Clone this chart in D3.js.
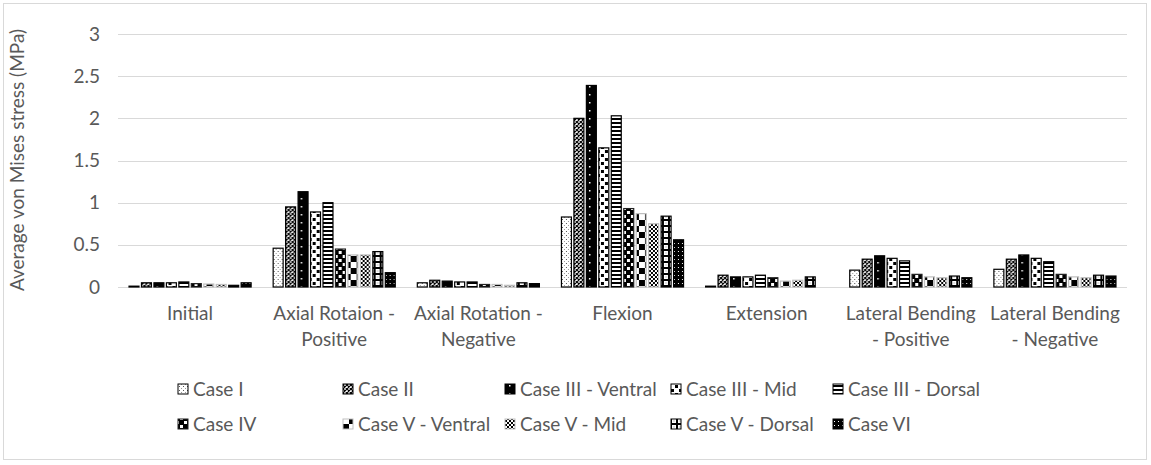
<!DOCTYPE html>
<html><head><meta charset="utf-8">
<script src="https://cdn.jsdelivr.net/npm/d3@7"></script>
<style>
body{margin:0;background:#fff;}
svg text{font-family:Lato,"Open Sans",sans-serif;fill:#595959;}
</style></head>
<body><svg id="c" width="1151" height="465"></svg>
<script>
const categories = ["Initial","Axial Rotaion - Positive","Axial Rotation - Negative","Flexion","Extension","Lateral Bending - Positive","Lateral Bending - Negative"];
const categoryLines = [["Initial"],["Axial Rotaion -","Positive"],["Axial Rotation -","Negative"],["Flexion"],["Extension"],["Lateral Bending","- Positive"],["Lateral Bending","- Negative"]];
const seriesNames = ["Case I","Case II","Case III - Ventral","Case III - Mid","Case III - Dorsal","Case IV","Case V - Ventral","Case V - Mid","Case V - Dorsal","Case VI"];
const caseI        = [0.01,0.46,0.05,0.83,0.01,0.20,0.21];
const caseII       = [0.05,0.95,0.08,2.00,0.14,0.33,0.33];
const caseIIIV     = [0.05,1.13,0.07,2.39,0.12,0.37,0.38];
const caseIIIM     = [0.05,0.89,0.06,1.65,0.12,0.34,0.34];
const caseIIID     = [0.06,1.00,0.06,2.03,0.14,0.31,0.30];
const caseIV       = [0.04,0.45,0.03,0.93,0.11,0.15,0.15];
const caseVV       = [0.035,0.38,0.03,0.87,0.07,0.12,0.12];
const caseVM       = [0.03,0.38,0.02,0.75,0.08,0.11,0.11];
const caseVD       = [0.02,0.42,0.05,0.84,0.12,0.13,0.14];
const caseVI       = [0.05,0.17,0.04,0.56,0.00,0.11,0.13];
const seriesValues = [caseI,caseII,caseIIIV,caseIIIM,caseIIID,caseIV,caseVV,caseVM,caseVD,caseVI];
const yTicks = [0,0.5,1,1.5,2,2.5,3];

const svg = d3.select("#c");
svg.append("rect").attr("x",3.5).attr("y",3.5).attr("width",1143).attr("height",456)
  .attr("fill","#fff").attr("stroke","#d9d9d9");

// patterns
const defs = svg.append("defs");
function pat(id,w,h,bg,draw){
  const p = defs.append("pattern").attr("id",id).attr("patternUnits","userSpaceOnUse").attr("width",w).attr("height",h);
  p.append("rect").attr("width",w).attr("height",h).attr("fill",bg);
  draw(p);
}
pat("p0",4,4,"#fff",p=>{p.append("rect").attr("x",1).attr("y",1).attr("width",1).attr("height",1).attr("fill","#555");p.append("rect").attr("x",3).attr("y",3).attr("width",1).attr("height",1).attr("fill","#999");});
pat("p1",4,4,"#fff",p=>{p.append("path").attr("d","M0,0L4,4M4,0L0,4").attr("stroke","#000").attr("stroke-width",1.2);});
pat("p2",8,8,"#000",p=>{p.append("rect").attr("x",4).attr("y",4).attr("width",1.5).attr("height",1.5).attr("fill","#fff");});
pat("p3",8,8,"#fff",p=>{p.append("rect").attr("x",0).attr("y",0).attr("width",3).attr("height",3).attr("fill","#000");p.append("rect").attr("x",4).attr("y",4).attr("width",3).attr("height",3).attr("fill","#000");});
pat("p4",4,4,"#fff",p=>{p.append("rect").attr("x",0).attr("y",0).attr("width",4).attr("height",2).attr("fill","#000");});
pat("p5",8,8,"#000",p=>{p.append("rect").attr("x",2).attr("y",1).attr("width",3).attr("height",3).attr("fill","#fff");p.append("rect").attr("x",6).attr("y",5).attr("width",2).attr("height",3).attr("fill","#fff");p.append("rect").attr("x",0).attr("y",5).attr("width",1).attr("height",3).attr("fill","#fff");});
pat("p6",12,12,"#fff",p=>{p.append("rect").attr("x",0).attr("y",0).attr("width",6).attr("height",6).attr("fill","#000");p.append("rect").attr("x",6).attr("y",6).attr("width",6).attr("height",6).attr("fill","#000");});
pat("p7",4,4,"#fff",p=>{p.append("rect").attr("x",0).attr("y",0).attr("width",2).attr("height",2).attr("fill","#000");p.append("rect").attr("x",2).attr("y",2).attr("width",2).attr("height",2).attr("fill","#000");});
pat("p8",6,6,"#000",p=>{p.append("rect").attr("x",1).attr("y",1).attr("width",4).attr("height",4).attr("fill","#fff");p.append("rect").attr("x",2.5).attr("y",2.5).attr("width",1).attr("height",1).attr("fill","#888");});
pat("p9",4,4,"#000",p=>{p.append("rect").attr("x",1).attr("y",1).attr("width",1).attr("height",1).attr("fill","#fff");});
const strokes = ["#000","#000","#000","#000","#000","#222","#bfbfbf","#bfbfbf","#000","#000"];

const margin = {left:118,right:24,top:34,bottom:178};
const W = 1151-margin.left-margin.right, H = 465-margin.top-margin.bottom;
const g = svg.append("g").attr("transform",`translate(${margin.left},${margin.top})`);
const x0 = d3.scaleBand().domain(categories).range([0,W]).paddingInner(0.146).paddingOuter(0.073);
const x1 = d3.scaleBand().domain(seriesNames).range([0,x0.bandwidth()]).paddingInner(0.12);
const y = d3.scaleLinear().domain([0,3]).range([H,0]);

// grid
g.append("g").selectAll("line").data(yTicks).join("line")
  .attr("x1",0).attr("x2",W).attr("y1",d=>Math.round(y(d))+0.5).attr("y2",d=>Math.round(y(d))+0.5)
  .attr("stroke","#d9d9d9").attr("stroke-width",1);

// y axis labels
const yAxis = d3.axisLeft(y).tickValues(yTicks).tickSize(0).tickPadding(0).tickFormat(d3.format("~g"));
const ya = g.append("g").attr("transform","translate(-18,0)").call(yAxis);
ya.select(".domain").remove();
ya.selectAll("text").style("font-size","19px").attr("fill","#595959").style("font-family","Lato");

// bars
const groups = g.append("g").selectAll("g").data(categories).join("g").attr("transform",d=>`translate(${x0(d)},0)`);
groups.selectAll("rect").data((d,i)=>seriesNames.map((s,j)=>({s,j,v:seriesValues[j][i]}))).join("rect")
  .attr("x",d=>x1(d.s)+0.5).attr("width",x1.bandwidth()-1)
  .attr("y",d=>y(d.v)).attr("height",d=>Math.max(0,H-y(d.v)))
  .attr("fill",d=>`url(#p${d.j})`).attr("stroke",d=>strokes[d.j]).attr("stroke-width",1.2);

// x labels
const xl = g.append("g").selectAll("text").data(categories).join("text")
  .attr("x",d=>x0(d)+x0.bandwidth()/2).attr("y",H+33)
  .attr("text-anchor","middle").style("font-size","19px");
xl.each(function(d,i){
  const t=d3.select(this);
  categoryLines[i].forEach((ln,k)=>t.append("tspan").attr("x",x0(d)+x0.bandwidth()/2).attr("dy",k?26:0).text(ln));
});

// y title
svg.append("text").attr("transform","translate(24,160) rotate(-90)").attr("text-anchor","middle")
  .style("font-size","19px").text("Average von Mises stress (MPa)");

// legend
const colX = [178,343,505,671,833];
const rowY = [389,424];
const leg = svg.append("g").selectAll("g").data(seriesNames).join("g")
  .attr("transform",(d,i)=>`translate(${colX[i%5]},${rowY[Math.floor(i/5)]})`);
leg.append("rect").attr("x",0).attr("y",-5).attr("width",10).attr("height",10)
  .attr("fill",(d,i)=>`url(#p${i})`).attr("stroke",(d,i)=>strokes[i]).attr("stroke-width",1);
leg.append("text").attr("x",15).attr("y",0).attr("dy","0.35em").style("font-size","19px").text(d=>d);
</script></body></html>
